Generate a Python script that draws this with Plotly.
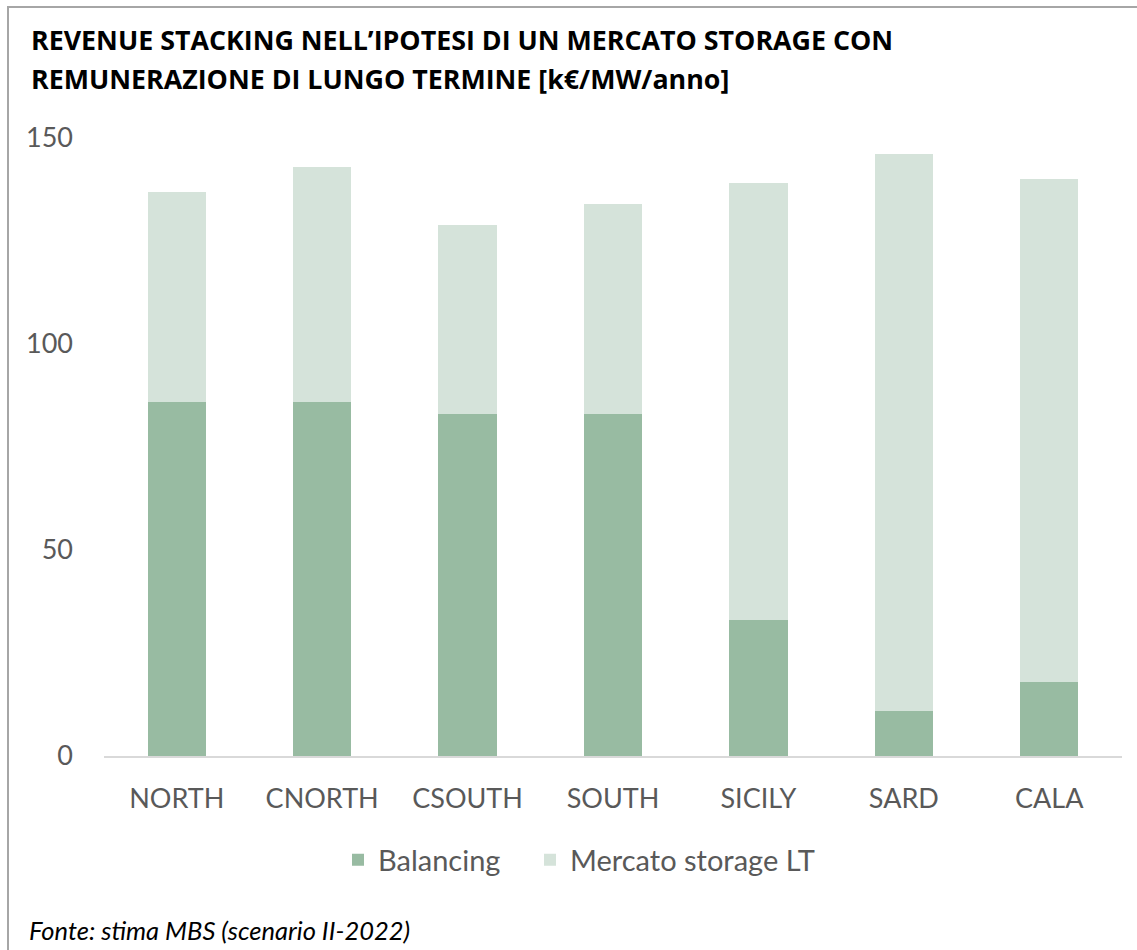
import plotly.graph_objects as go

categories = ["NORTH", "CNORTH", "CSOUTH", "SOUTH", "SICILY", "SARD", "CALA"]
balancing = [86, 86, 83, 83, 33, 11, 18]
storage_lt = [51, 57, 46, 51, 106, 135, 122]
y_ticks = [0, 50, 100, 150]

W, H = 1137, 950
L, R, T, B = 104, 15, 138, 194
pw, ph = W - L - R, H - T - B

def px(x):
    return (x - L) / pw

def py(y):
    return (H - B - y) / ph

FONT = "Lato"
fig = go.Figure()
fig.add_trace(go.Bar(x=categories, y=balancing, name="Balancing", legend="legend",
                     marker=dict(color="#98bba2", line=dict(width=0))))
fig.add_trace(go.Bar(x=categories, y=storage_lt, name="Mercato storage LT", legend="legend2",
                     marker=dict(color="#d5e3da", line=dict(width=0))))

leg_common = dict(orientation="h", xanchor="left", y=py(860), yanchor="middle",
                  font=dict(size=29, color="#595959"), bgcolor="rgba(0,0,0,0)")

fig.update_layout(
    width=W, height=H,
    barmode="stack", bargap=0.6,
    plot_bgcolor="white", paper_bgcolor="white",
    margin=dict(l=L, r=R, t=T, b=B),
    font=dict(family=FONT, color="#595959", size=27),
    xaxis=dict(showgrid=False, showline=True, linecolor="#d9d9d9", linewidth=2,
               ticks="", ticklabelstandoff=18, tickfont=dict(size=27, color="#595959")),
    yaxis=dict(range=[0, 150], tickvals=y_ticks, showgrid=False, zeroline=False,
               showline=False, ticks="", ticklabelstandoff=30,
               tickfont=dict(size=27, color="#595959")),
    legend=dict(x=px(338), **leg_common),
    legend2=dict(x=px(530), **leg_common),
    showlegend=True,
)

title_lines = ["REVENUE STACKING NELL’IPOTESI DI UN MERCATO STORAGE CON",
               "REMUNERAZIONE DI LUNGO TERMINE [k€/MW/anno]"]
for line, yc in zip(title_lines, [39, 78]):
    fig.add_annotation(text="<b>" + line + "</b>", xref="paper", yref="paper",
                       x=px(29), y=py(yc), xanchor="left", yanchor="middle", showarrow=False,
                       font=dict(family="Open Sans", size=26.8, color="black"))

fig.add_annotation(text="<i>Fonte: stima MBS (scenario II-2022)</i>", xref="paper", yref="paper",
                   x=px(27), y=py(930), xanchor="left", yanchor="middle", showarrow=False,
                   font=dict(family=FONT, size=25.5, color="black"))

fig.add_shape(type="rect", xref="paper", yref="paper",
              x0=px(8), x1=px(1145), y0=py(960), y1=py(7),
              line=dict(color="#a6a6a6", width=2), fillcolor="rgba(0,0,0,0)", layer="below")

fig.write_html("out.html")
